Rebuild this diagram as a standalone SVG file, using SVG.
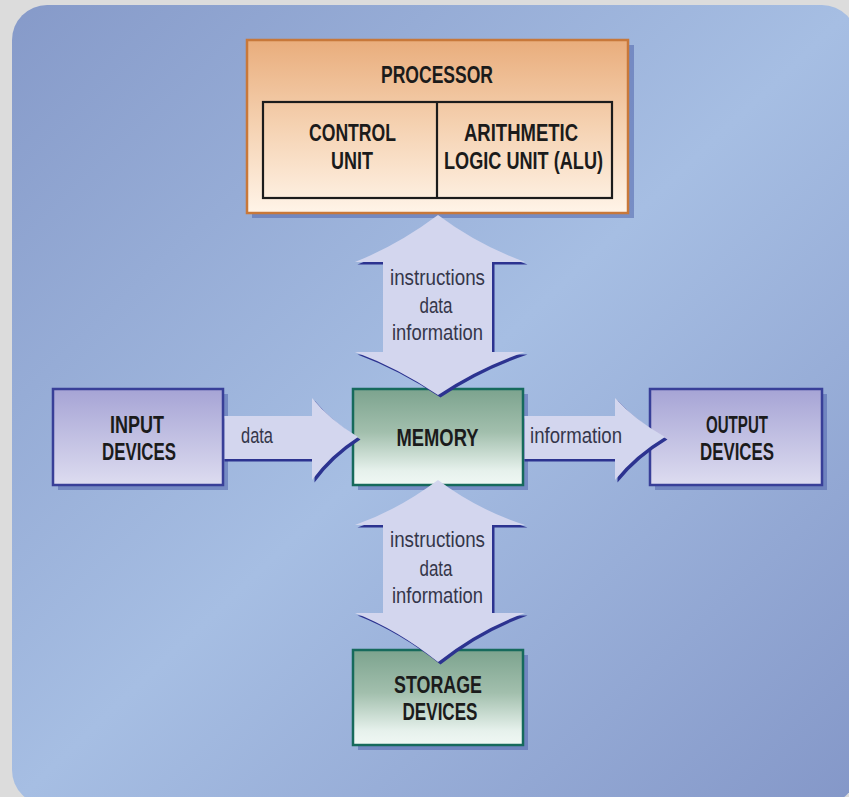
<svg xmlns="http://www.w3.org/2000/svg" width="849" height="797" viewBox="0 0 849 797">
  <defs>
    <linearGradient id="bg" x1="0" y1="0" x2="1" y2="1">
      <stop offset="0" stop-color="#869ac9"/>
      <stop offset="0.5" stop-color="#a6bee3"/>
      <stop offset="1" stop-color="#8497c8"/>
    </linearGradient>
    <linearGradient id="gProc" x1="0" y1="0" x2="0" y2="1">
      <stop offset="0" stop-color="#e9ad7c"/>
      <stop offset="0.5" stop-color="#f5d2b2"/>
      <stop offset="1" stop-color="#fff4e8"/>
    </linearGradient>
    <linearGradient id="gIO" x1="0" y1="0" x2="0" y2="1">
      <stop offset="0" stop-color="#a6a4d5"/>
      <stop offset="1" stop-color="#dddcf0"/>
    </linearGradient>
    <linearGradient id="gMem" x1="0" y1="0" x2="0" y2="1">
      <stop offset="0" stop-color="#7ca38e"/>
      <stop offset="0.45" stop-color="#a2bfad"/>
      <stop offset="0.85" stop-color="#e6f1ec"/>
      <stop offset="1" stop-color="#f0f8f4"/>
    </linearGradient>
  </defs>
  <style>
    .shadow { fill: #4a5da8; opacity: 0.5; }
    .proc { fill: url(#gProc); stroke: #c8783a; stroke-width: 2.5; }
    .io { fill: url(#gIO); stroke: #383f98; stroke-width: 2.5; }
    .mem { fill: url(#gMem); stroke: #166a5c; stroke-width: 2.5; }
    .inner { fill: none; stroke: #1c1c1c; stroke-width: 2.2; }
    .arrow { fill: #d3d6ee; }
    .ashadow { fill: #2c3390; }
    .bold { font-family: "Liberation Sans Narrow", "Liberation Sans", Arial, sans-serif; font-weight: bold; font-size: 23.5px; fill: #1b1b1b; text-anchor: middle; }
    .lbl { font-family: "Liberation Sans", Arial, sans-serif; font-weight: normal; font-size: 22px; fill: #35364a; text-anchor: middle; }
  </style>

  <rect x="0" y="0" width="849" height="797" fill="#dcdcdc"/>
  <rect x="12" y="5" width="845" height="800" rx="35" ry="35" fill="url(#bg)"/>

  <g id="processor">
    <rect class="shadow" x="252" y="45" width="382" height="173"/>
    <rect class="proc" x="247" y="40" width="381" height="173"/>
    <rect class="inner" x="263" y="102" width="349" height="96"/>
    <line class="inner" x1="437" y1="102" x2="437" y2="198"/>
    <text class="bold" x="437" y="83" textLength="112" lengthAdjust="spacingAndGlyphs">PROCESSOR</text>
    <text class="bold" x="352.5" y="141" textLength="87" lengthAdjust="spacingAndGlyphs">CONTROL</text>
    <text class="bold" x="352" y="169" textLength="42" lengthAdjust="spacingAndGlyphs">UNIT</text>
    <text class="bold" x="521" y="141" textLength="114" lengthAdjust="spacingAndGlyphs">ARITHMETIC</text>
    <text class="bold" x="523.5" y="169" textLength="159" lengthAdjust="spacingAndGlyphs">LOGIC UNIT (ALU)</text>
  </g>

  <g id="input">
    <rect class="shadow" x="58" y="394" width="170" height="96"/>
    <rect class="io" x="53" y="389" width="170" height="96"/>
    <text class="bold" x="137" y="433" textLength="54" lengthAdjust="spacingAndGlyphs">INPUT</text>
    <text class="bold" x="139" y="460" textLength="74" lengthAdjust="spacingAndGlyphs">DEVICES</text>
  </g>

  <g id="output">
    <rect class="shadow" x="655" y="394" width="172" height="96"/>
    <rect class="io" x="650" y="389" width="172" height="96"/>
    <text class="bold" x="737" y="433" textLength="62" lengthAdjust="spacingAndGlyphs">OUTPUT</text>
    <text class="bold" x="737" y="460" textLength="74" lengthAdjust="spacingAndGlyphs">DEVICES</text>
  </g>

  <g id="memory">
    <rect class="shadow" x="358" y="394" width="170" height="96"/>
    <rect class="mem" x="353" y="389" width="170" height="96"/>
    <text class="bold" x="437.5" y="446" textLength="82" lengthAdjust="spacingAndGlyphs">MEMORY</text>
  </g>

  <g id="storage">
    <rect class="shadow" x="358" y="655" width="170" height="95"/>
    <rect class="mem" x="353" y="650" width="170" height="95"/>
    <text class="bold" x="438" y="693" textLength="88" lengthAdjust="spacingAndGlyphs">STORAGE</text>
    <text class="bold" x="440" y="720" textLength="75" lengthAdjust="spacingAndGlyphs">DEVICES</text>
  </g>

  <g id="connectors">
    <g id="proc-mem">
      <path class="ashadow" transform="translate(2.5,2.5)" d="M438,215 Q478,245 525,262 L492,262 L492,352 L525,352 Q478,368 438,395 Q398,368 355,352 L383,352 L383,262 L355,262 Q398,245 438,215 Z"/>
      <path class="arrow" d="M438,215 Q478,245 525,262 L492,262 L492,352 L525,352 Q478,368 438,395 Q398,368 355,352 L383,352 L383,262 L355,262 Q398,245 438,215 Z"/>
      <text class="lbl" x="437.5" y="285" textLength="95" lengthAdjust="spacingAndGlyphs">instructions</text>
      <text class="lbl" x="436" y="313" textLength="33" lengthAdjust="spacingAndGlyphs">data</text>
      <text class="lbl" x="437.5" y="340" textLength="91" lengthAdjust="spacingAndGlyphs">information</text>
    </g>
    <g id="mem-storage">
      <path class="ashadow" transform="translate(2.5,2.5)" d="M438,480 Q478,510 525,525 L492,525 L492,613 L525,613 Q478,630 438,662 Q398,630 355,613 L383,613 L383,525 L355,525 Q398,510 438,480 Z"/>
      <path class="arrow" d="M438,480 Q478,510 525,525 L492,525 L492,613 L525,613 Q478,630 438,662 Q398,630 355,613 L383,613 L383,525 L355,525 Q398,510 438,480 Z"/>
      <text class="lbl" x="437.5" y="547" textLength="95" lengthAdjust="spacingAndGlyphs">instructions</text>
      <text class="lbl" x="436" y="576" textLength="33" lengthAdjust="spacingAndGlyphs">data</text>
      <text class="lbl" x="437.5" y="603" textLength="91" lengthAdjust="spacingAndGlyphs">information</text>
    </g>
    <g id="input-mem">
      <path class="ashadow" transform="translate(2.5,2.5)" d="M222,416 L312,416 L312,398 Q330,420 358,437 Q330,455 312,480 L312,459 L222,459 Z"/>
      <path class="arrow" d="M224.5,416 L312,416 L312,398 Q330,420 358,437 Q330,455 312,480 L312,459 L224.5,459 Z"/>
      <text class="lbl" x="257" y="443" textLength="32" lengthAdjust="spacingAndGlyphs">data</text>
    </g>
    <g id="mem-output">
      <path class="ashadow" transform="translate(2.5,2.5)" d="M522,416 L615,416 L615,398 Q635,420 665,437 Q635,455 615,480 L615,459 L522,459 Z"/>
      <path class="arrow" d="M524.5,416 L615,416 L615,398 Q635,420 665,437 Q635,455 615,480 L615,459 L524.5,459 Z"/>
      <text class="lbl" x="576" y="443" textLength="92" lengthAdjust="spacingAndGlyphs">information</text>
    </g>
  </g>
</svg>
